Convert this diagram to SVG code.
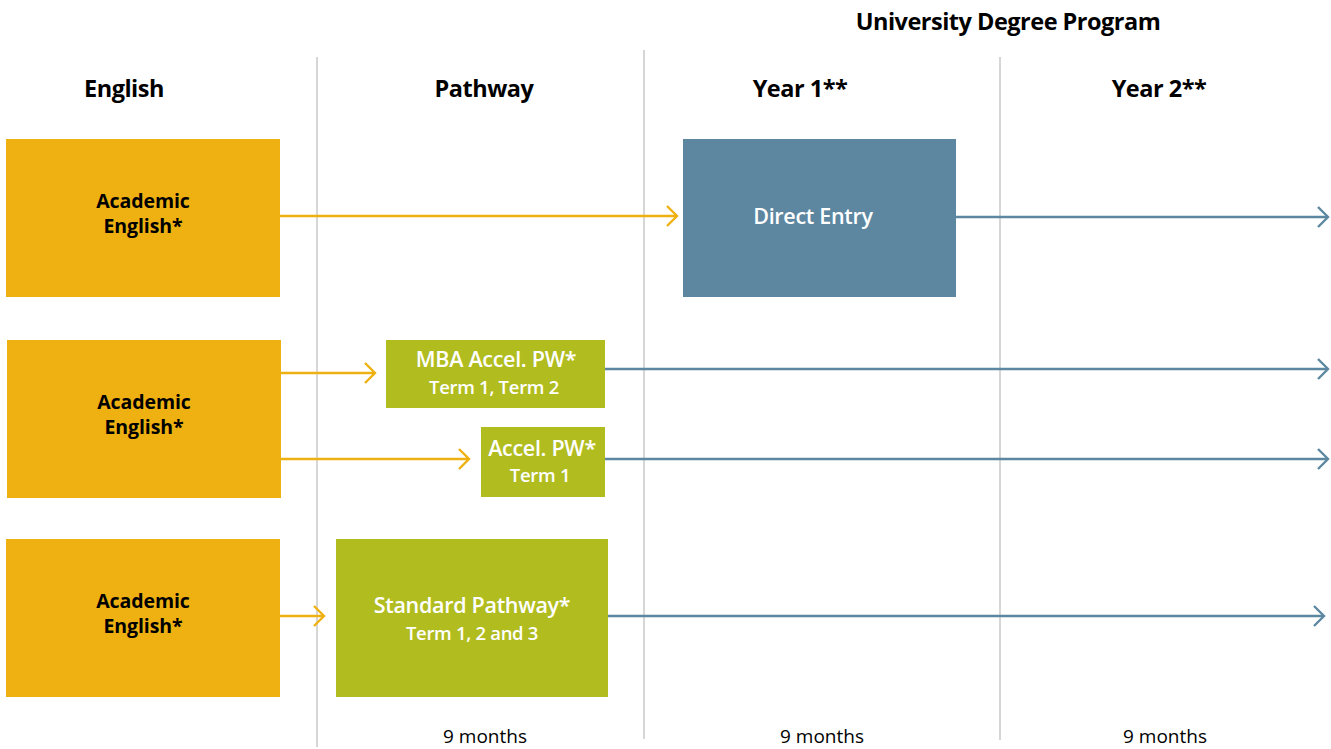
<svg xmlns="http://www.w3.org/2000/svg" width="1331" height="749" viewBox="0 0 1331 749">
<style>
.hdr{font-family:"Open Sans","Liberation Sans",sans-serif;font-weight:700;font-size:23.5px;fill:#000;text-anchor:middle;letter-spacing:-0.5px}
.ae{font-family:"Open Sans","Liberation Sans",sans-serif;font-weight:700;font-size:19.5px;fill:#000;text-anchor:middle;letter-spacing:-0.1px}
.wt{font-family:"Open Sans","Liberation Sans",sans-serif;font-weight:600;font-size:21.5px;fill:#fff;text-anchor:middle;letter-spacing:-0.3px}
.ws{font-family:"Open Sans","Liberation Sans",sans-serif;font-weight:600;font-size:18.5px;fill:#fff;text-anchor:middle;letter-spacing:-0.3px}
.mo{font-family:"Open Sans","Liberation Sans",sans-serif;font-size:19px;fill:#000;text-anchor:middle}
.grid{stroke:#c0c0c0;stroke-width:1.3}
.yl{stroke:#EEB111;stroke-width:2.4;fill:none}
.bl{stroke:#5D87A1;stroke-width:2.4;fill:none}
</style>
<defs>
<marker id="ay" markerWidth="14" markerHeight="24" refX="11" refY="11" orient="auto" markerUnits="userSpaceOnUse">
<path d="M1,1 L11,11 L1,21" fill="none" stroke="#EEB111" stroke-width="2.4"/>
</marker>
<marker id="ab" markerWidth="14" markerHeight="24" refX="11" refY="11" orient="auto" markerUnits="userSpaceOnUse">
<path d="M1,1 L11,11 L1,21" fill="none" stroke="#5D87A1" stroke-width="2.4"/>
</marker>
</defs>
<rect width="1331" height="749" fill="#fff"/>
<g id="grid">
<line class="grid" x1="317" y1="57" x2="317" y2="747"/>
<line class="grid" x1="644" y1="50" x2="644" y2="739"/>
<line class="grid" x1="1000" y1="57" x2="1000" y2="740"/>
</g>
<g id="headers">
<text class="hdr" x="1008" y="30">University Degree Program</text>
<text class="hdr" x="124" y="97">English</text>
<text class="hdr" x="484" y="97">Pathway</text>
<text class="hdr" x="800" y="97">Year 1**</text>
<text class="hdr" x="1159" y="97">Year 2**</text>
</g>
<g id="connectors">
<line class="yl" x1="280" y1="216" x2="677" y2="216" marker-end="url(#ay)"/>
<line class="bl" x1="956" y1="217" x2="1328" y2="217" marker-end="url(#ab)"/>
<line class="yl" x1="281" y1="373" x2="375" y2="373" marker-end="url(#ay)"/>
<line class="yl" x1="281" y1="459" x2="469" y2="459" marker-end="url(#ay)"/>
<line class="yl" x1="280" y1="616" x2="324" y2="616" marker-end="url(#ay)"/>
<line class="bl" x1="605" y1="369" x2="1328" y2="369" marker-end="url(#ab)"/>
<line class="bl" x1="605" y1="459" x2="1328" y2="459" marker-end="url(#ab)"/>
<line class="bl" x1="608" y1="616" x2="1324" y2="616" marker-end="url(#ab)"/>
</g>
<g id="ae1">
<rect x="6" y="139" width="274" height="158" fill="#EEB111"/>
<text class="ae" x="143" y="208">Academic</text>
<text class="ae" x="143" y="233">English*</text>
</g>
<g id="ae2">
<rect x="7" y="340" width="274" height="158" fill="#EEB111"/>
<text class="ae" x="144" y="409">Academic</text>
<text class="ae" x="144" y="434">English*</text>
</g>
<g id="ae3">
<rect x="6" y="539" width="274" height="158" fill="#EEB111"/>
<text class="ae" x="143" y="608">Academic</text>
<text class="ae" x="143" y="633">English*</text>
</g>
<g id="direct">
<rect x="683" y="139" width="273" height="158" fill="#5D87A1"/>
<text class="wt" x="813" y="224">Direct Entry</text>
</g>
<g id="mba">
<rect x="386" y="340" width="219" height="68" fill="#B1BC1F"/>
<text class="wt" x="496" y="367">MBA Accel. PW*</text>
<text class="ws" x="494" y="394">Term 1, Term 2</text>
</g>
<g id="accel">
<rect x="481" y="427" width="124" height="70" fill="#B1BC1F"/>
<text class="wt" x="542" y="456">Accel. PW*</text>
<text class="ws" x="540" y="482">Term 1</text>
</g>
<g id="standard">
<rect x="336" y="539" width="272" height="158" fill="#B1BC1F"/>
<text class="wt" x="472" y="613">Standard Pathway*</text>
<text class="ws" x="472" y="640">Term 1, 2 and 3</text>
</g>
<g id="durations">
<text class="mo" x="485" y="743">9 months</text>
<text class="mo" x="822" y="743">9 months</text>
<text class="mo" x="1165" y="743">9 months</text>
</g>
</svg>
